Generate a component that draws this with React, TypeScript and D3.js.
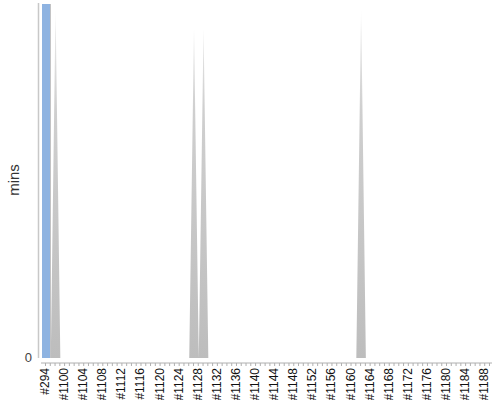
import React from "react";
import * as d3 from "d3";

const categories: string[] = ["#294"];
for (let n = 1097; n <= 1189; n++) categories.push("#" + n);

// blue column series (only the first category has a value)
const barCategories = ["#294"];
const barValues = [100];

// grey area series: non-zero categories
const areaCategories = ["#1098", "#1127", "#1129", "#1162"];
const areaPeaks = [99, 93, 93, 99];

const tickLabels = categories.filter((_, i) => i % 4 === 0);

const W = 500;
const H = 400;
const plotTop = 4;
const zeroY = 358;
const axisY = 363;
const xLeft = 41;
const xRight = 492;

export default function App() {
  const x = d3
    .scalePoint<string>()
    .domain(categories)
    .range([xLeft, 495])
    .padding(1.05);
  const y = d3.scaleLinear().domain([0, 100]).range([zeroY, plotTop]);

  const areaData = categories.map((c) => {
    const k = areaCategories.indexOf(c);
    return { c, v: k >= 0 ? areaPeaks[k] : 0 };
  });
  const area = d3
    .area<{ c: string; v: number }>()
    .x((d) => x(d.c) as number)
    .y0(zeroY)
    .y1((d) => y(d.v));

  const barW = 8;

  return (
    <svg
      width={W}
      height={H}
      style={{ position: "absolute", left: 0, top: 0, background: "#fff" }}
      fontFamily="Liberation Sans, Arial, sans-serif"
    >
      <defs>
        <linearGradient
          id="greyFade"
          gradientUnits="userSpaceOnUse"
          x1="0"
          y1={plotTop}
          x2="0"
          y2={zeroY}
        >
          <stop offset="0%" stopColor="#ffffff" />
          <stop offset="8%" stopColor="#e6e6e6" />
          <stop offset="30%" stopColor="#cfcfcf" />
          <stop offset="100%" stopColor="#bdbdbd" />
        </linearGradient>
      </defs>

      {/* y axis line */}
      <line x1={38.5} x2={38.5} y1={plotTop - 1} y2={zeroY} stroke="#c8c8c8" strokeWidth={1.5} />
      <text x={32} y={zeroY + 4} textAnchor="end" fontSize={13} fill="#444">
        0
      </text>
      <text
        transform={`translate(19,${180}) rotate(-90)`}
        textAnchor="middle"
        fontSize={15}
        fill="#333"
      >
        mins
      </text>

      {/* grey area */}
      <path d={area(areaData) || ""} fill="url(#greyFade)" />

      {/* blue bars */}
      {barCategories.map((c, i) => {
        const cx = x(c) as number;
        return (
          <g key={c}>
            <rect
              x={cx - barW / 2 + 1}
              y={y(barValues[i])}
              width={barW}
              height={zeroY - y(barValues[i])}
              fill="#c4c4c4"
            />
            <rect
              x={cx - barW / 2}
              y={y(barValues[i])}
              width={barW}
              height={zeroY - y(barValues[i])}
              fill="#8eb3e1"
            />
          </g>
        );
      })}

      {/* x axis */}
      <line x1={xLeft} x2={xRight} y1={axisY} y2={axisY} stroke="#b0b0b0" strokeWidth={1} />
      {categories.map((c) => (
        <line
          key={c}
          x1={(x(c) as number) - 0.5}
          x2={(x(c) as number) - 0.5}
          y1={axisY}
          y2={axisY + 3}
          stroke="#b0b0b0"
          strokeWidth={1}
        />
      ))}
      {tickLabels.map((c) => (
        <text
          key={c}
          transform={`translate(${(x(c) as number) + 3},${axisY + 5}) rotate(-90)`}
          textAnchor="end"
          fontSize={12}
          fill="#111"
        >
          {c}
        </text>
      ))}
    </svg>
  );
}
